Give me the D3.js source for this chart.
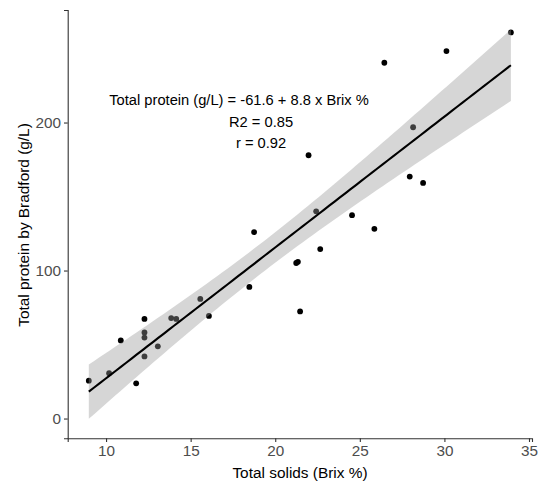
<!DOCTYPE html>
<html>
<head>
<meta charset="utf-8">
<script src="https://cdn.jsdelivr.net/npm/d3@7"></script>
<style>
  body { margin: 0; background: #fff; }
  text { font-family: "Liberation Sans", Arial, sans-serif; }
</style>
</head>
<body>
<div id="chart"></div>
<script>
// values
var brix = [8.98, 10.18, 10.87, 11.78, 12.27, 12.27, 12.27, 12.27, 13.06, 13.85,
  14.15, 15.57, 16.08, 18.47, 18.75, 21.24, 21.34, 21.47, 22.42, 22.66,
  24.54, 25.86, 21.97, 26.45, 28.15, 27.95, 28.74, 30.12, 33.93];
var protein = [25.6, 30.6, 52.8, 23.8, 67.3, 58.2, 54.7, 42.0, 48.8, 67.9,
  67.3, 80.8, 69.3, 88.9, 126.0, 105.1, 105.9, 72.4, 140.0, 114.5,
  137.4, 128.2, 177.9, 240.4, 196.8, 163.5, 159.2, 248.3, 260.9];

var xTicks = [10, 15, 20, 25, 30, 35];
var yTicks = [0, 100, 200];

var labelLines = ["Total protein (g/L) = -61.6 + 8.8 x Brix %", "R2 = 0.85", "r = 0.92"];
var labelX = [17.86, 19.16, 19.16];
var labelY = [215, 200.5, 186];

var width = 539, height = 485;
var margin = {top: 10, right: 7, bottom: 46.7, left: 67.7};

var svg = d3.select("#chart").append("svg")
  .attr("width", width)
  .attr("height", height);

// linear fit + 95% confidence band (like geom_smooth(method = "lm"))
var n = brix.length;
var xbar = d3.mean(brix), ybar = d3.mean(protein);
var sxx = d3.sum(brix, function(x) { return (x - xbar) * (x - xbar); });
var sxy = d3.sum(brix, function(x, i) { return (x - xbar) * (protein[i] - ybar); });
var slope = sxy / sxx;
var intercept = ybar - slope * xbar;
var sse = d3.sum(brix, function(x, i) {
  var r = protein[i] - (intercept + slope * x);
  return r * r;
});
var s = Math.sqrt(sse / (n - 2));
var tcrit = 2.0518; // t(0.975, df = 27)

var xmin = d3.min(brix), xmax = d3.max(brix);
var fit = d3.range(80).map(function(i) {
  var x = xmin + (xmax - xmin) * i / 79;
  var yhat = intercept + slope * x;
  var se = s * Math.sqrt(1 / n + (x - xbar) * (x - xbar) / sxx);
  return {x: x, y: yhat, lo: yhat - tcrit * se, hi: yhat + tcrit * se};
});

// scales with ggplot style 5% expansion
var xr = xmax - xmin;
var x = d3.scaleLinear()
  .domain([xmin - 0.05 * xr, xmax + 0.05 * xr])
  .range([margin.left, width - margin.right]);

var ylo = Math.min(d3.min(protein), d3.min(fit, function(d) { return d.lo; }));
var yhi = Math.max(d3.max(protein), d3.max(fit, function(d) { return d.hi; }));
var yr = yhi - ylo;
var y = d3.scaleLinear()
  .domain([ylo - 0.05 * yr, yhi + 0.05 * yr])
  .range([height - margin.bottom, margin.top]);

// points
svg.selectAll("circle.pt")
  .data(brix)
  .enter()
  .append("circle")
  .attr("class", "pt")
  .attr("cx", function(d) { return x(d); })
  .attr("cy", function(d, i) { return y(protein[i]); })
  .attr("r", 2.9)
  .attr("fill", "#000");

// confidence ribbon drawn over the points
svg.append("path")
  .datum(fit)
  .attr("d", d3.area()
    .x(function(d) { return x(d.x); })
    .y0(function(d) { return y(d.lo); })
    .y1(function(d) { return y(d.hi); }))
  .attr("fill", "#999999")
  .attr("fill-opacity", 0.4);

// fitted line
svg.append("path")
  .datum(fit)
  .attr("d", d3.line()
    .x(function(d) { return x(d.x); })
    .y(function(d) { return y(d.y); }))
  .attr("fill", "none")
  .attr("stroke", "#000")
  .attr("stroke-width", 2.1);

// axes
var xAxis = svg.append("g")
  .attr("transform", "translate(0," + (height - margin.bottom) + ")")
  .call(d3.axisBottom(x).tickValues(xTicks).tickSize(3.7).tickPadding(3));
var yAxis = svg.append("g")
  .attr("transform", "translate(" + margin.left + ",0)")
  .call(d3.axisLeft(y).tickValues(yTicks).tickSize(3.7).tickPadding(3));

[xAxis, yAxis].forEach(function(g) {
  g.select(".domain").attr("stroke", "#333").attr("stroke-width", 1.1);
  g.selectAll(".tick line").attr("stroke", "#333").attr("stroke-width", 1.1);
  g.selectAll(".tick text")
    .attr("fill", "#4d4d4d")
    .style("font-size", "15.3px");
});

// axis titles
svg.append("text")
  .attr("x", 300)
  .attr("y", 477.7)
  .attr("text-anchor", "middle")
  .style("font-size", "15.4px")
  .attr("fill", "#000")
  .text("Total solids (Brix %)");

svg.append("text")
  .attr("transform", "translate(29," + 225 + ") rotate(-90)")
  .attr("text-anchor", "middle")
  .style("font-size", "15.4px")
  .attr("fill", "#000")
  .text("Total protein by Bradford (g/L)");

// equation labels
svg.selectAll("text.eq")
  .data(labelLines)
  .enter()
  .append("text")
  .attr("class", "eq")
  .attr("x", function(d, i) { return x(labelX[i]); })
  .attr("y", function(d, i) { return y(labelY[i]); })
  .attr("dy", "0.35em")
  .attr("text-anchor", "middle")
  .style("font-size", "14.7px")
  .attr("fill", "#000")
  .text(function(d) { return d; });
</script>
</body>
</html>
